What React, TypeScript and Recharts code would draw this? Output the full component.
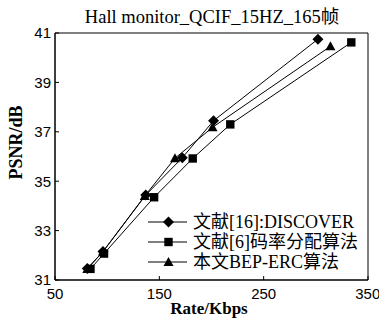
import React from 'react';
import { LineChart, Line, XAxis, YAxis, ReferenceArea, Label } from 'recharts';

const seriesNames = ['文献[16]:DISCOVER', '文献[6]码率分配算法', '本文BEP-ERC算法'];
const rateDiscover = [81, 96, 137, 172, 202, 302];
const psnrDiscover = [31.47, 32.15, 34.44, 35.95, 37.45, 40.75];
const rateBitAlloc = [84, 97, 145, 182, 218, 334];
const psnrBitAlloc = [31.45, 32.07, 34.35, 35.92, 37.3, 40.62];
const rateOurs = [81, 96, 136, 165, 201, 314];
const psnrOurs = [31.45, 32.15, 34.4, 35.93, 37.18, 40.46];
const xTicks = [50, 150, 250, 350];
const yTicks = [31, 33, 35, 37, 39, 41];
const title = 'Hall monitor_QCIF_15HZ_165帧';
const xLabel = 'Rate/Kbps';
const yLabel = 'PSNR/dB';

const build = (r: number[], p: number[]) => r.map((rate, i) => ({ rate, psnr: p[i] }));
const dataDiscover = build(rateDiscover, psnrDiscover);
const dataBitAlloc = build(rateBitAlloc, psnrBitAlloc);
const dataOurs = build(rateOurs, psnrOurs);

const INK = '#000';
const SERIF = '"Liberation Serif", "Times New Roman", "Noto Sans CJK SC", serif';
const SANS = '"Liberation Sans", Arial, sans-serif';

type Kind = 'diamond' | 'square' | 'triangle';
const markerPath = (kind: Kind, cx: number, cy: number) => {
  if (kind === 'diamond') {
    const r = 5.5;
    return `M${cx},${cy - r}L${cx + r},${cy}L${cx},${cy + r}L${cx - r},${cy}Z`;
  }
  if (kind === 'square') {
    const r = 4.2;
    return `M${cx - r},${cy - r}H${cx + r}V${cy + r}H${cx - r}Z`;
  }
  const r = 5;
  return `M${cx},${cy - r}L${cx + r},${cy + r * 0.8}L${cx - r},${cy + r * 0.8}Z`;
};

const makeDot = (kind: Kind) => (props: any) => {
  const { cx, cy, index } = props;
  if (cx == null || cy == null) return <g key={`e-${kind}-${index}`} />;
  return <path key={`${kind}-${index}`} d={markerPath(kind, cx, cy)} fill={INK} stroke="none" />;
};

const kinds: Kind[] = ['diamond', 'square', 'triangle'];

const LegendBox = () => (
  <div style={{ position: 'absolute', left: 148, top: 212, zIndex: 2 }}>
    {seriesNames.map((name, i) => (
      <div key={name} style={{ display: 'flex', alignItems: 'center', height: 20 }}>
        <svg width={45} height={20} style={{ display: 'block' }}>
          <line x1={0} y1={10} x2={39} y2={10} stroke={INK} strokeWidth={1} />
          <path d={markerPath(kinds[i], 20.5, 10)} fill={INK} />
        </svg>
        <span style={{ fontFamily: SERIF, fontSize: 18, lineHeight: '20px', color: '#000', whiteSpace: 'nowrap' }}>{name}</span>
      </div>
    ))}
  </div>
);

export default function App() {
  return (
    <div style={{ position: 'absolute', left: 0, top: 0, width: 379, height: 318, background: '#fff', overflow: 'hidden' }}>
      <div
        style={{
          position: 'absolute', left: 0, top: 8, width: 424, textAlign: 'center',
          fontFamily: SERIF, fontSize: 18.5, lineHeight: '18px', color: '#000', zIndex: 2, whiteSpace: 'nowrap',
        }}
      >
        {title}
      </div>
      <LineChart width={379} height={318} margin={{ top: 33, right: 11, bottom: 8, left: 25 }}>
        <XAxis
          type="number"
          dataKey="rate"
          domain={[50, 350]}
          ticks={xTicks}
          allowDataOverflow
          height={30}
          tickSize={-4}
          tickMargin={12}
          axisLine={{ stroke: INK, strokeWidth: 1 }}
          tickLine={{ stroke: INK, strokeWidth: 1 }}
          tick={{ fill: INK, fontSize: 15, fontFamily: SANS }}
        >
          <Label
            content={() => (
              <text x={209} y={313.5} textAnchor="middle" fontFamily={SERIF} fontWeight="bold" fontSize={17} fill={INK}>
                {xLabel}
              </text>
            )}
          />
        </XAxis>
        <YAxis
          type="number"
          dataKey="psnr"
          domain={[31, 41]}
          ticks={yTicks}
          allowDataOverflow
          width={30}
          tickSize={-4}
          tickMargin={8}
          axisLine={{ stroke: INK, strokeWidth: 1 }}
          tickLine={{ stroke: INK, strokeWidth: 1 }}
          tick={{ fill: INK, fontSize: 15, fontFamily: SANS }}
        >
          <Label
            content={() => (
              <text
                transform="translate(22,142.5) rotate(-90)"
                textAnchor="middle"
                fontFamily={SERIF}
                fontWeight="bold"
                fontSize={18}
                fill={INK}
              >
                {yLabel}
              </text>
            )}
          />
        </YAxis>
        <ReferenceArea x1={50} x2={350} y1={31} y2={41} fill="none" stroke={INK} strokeWidth={1} fillOpacity={0} />
        <Line data={dataDiscover} dataKey="psnr" name={seriesNames[0]} stroke={INK} strokeWidth={1} dot={makeDot('diamond')} activeDot={false} isAnimationActive={false} />
        <Line data={dataBitAlloc} dataKey="psnr" name={seriesNames[1]} stroke={INK} strokeWidth={1} dot={makeDot('square')} activeDot={false} isAnimationActive={false} />
        <Line data={dataOurs} dataKey="psnr" name={seriesNames[2]} stroke={INK} strokeWidth={1} dot={makeDot('triangle')} activeDot={false} isAnimationActive={false} />
      </LineChart>
      <LegendBox />
    </div>
  );
}
